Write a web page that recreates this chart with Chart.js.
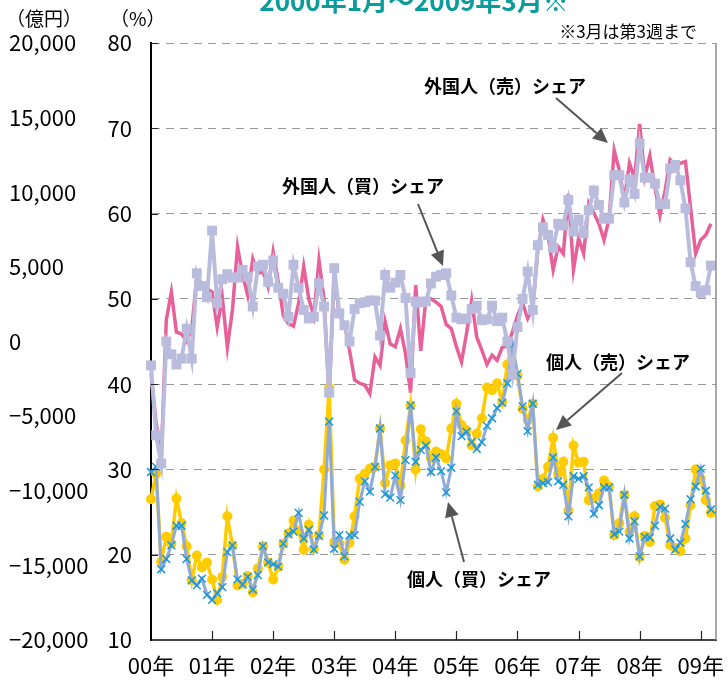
<!DOCTYPE html>
<html>
<head>
<meta charset="utf-8">
<script src="https://cdn.jsdelivr.net/npm/chart.js@4.4.0/dist/chart.umd.min.js"></script>
<style>
  html, body { margin: 0; padding: 0; background: #fff; }
</style>
</head>
<body>
<canvas id="chart" width="728" height="685"></canvas>
<script>
// tick labels
const yearLabels = ['00年', '01年', '02年', '03年', '04年', '05年', '06年', '07年', '08年', '09年'];

// monthly categories 2000/1 .. 2009/3 (plus one empty slot at the right end)
const months = [];
for (let y = 2000; y <= 2009; y++) {
  for (let m = 1; m <= 12; m++) {
    if (y === 2009 && m > 3) break;
    months.push(y + '/' + m);
  }
}
months.push('');

// share (%)
const foreignSell = [
  41.2, 35.5, 31.1, 47.5, 50.8, 46.1, 45.9, 45.0, 46.5, 52.6, 51.8, 51.2,
  50.8, 46.7, 50.2, 44.3, 48.7, 56.1, 52.8, 50.4, 54.7, 53.0, 53.2, 51.4,
  55.5, 52.0, 48.0, 47.1, 46.8, 49.5, 53.8, 50.0, 48.0, 54.5, 50.0, 38.5,
  53.0, 48.0, 47.1, 44.0, 40.5, 40.1, 39.9, 38.9, 43.2, 42.2, 47.3, 44.7,
  44.4, 46.5, 43.6, 39.0, 51.6, 43.9, 50.0, 50.0, 49.6, 49.1, 47.0, 46.5,
  44.4, 42.6, 46.0, 49.8, 45.5, 44.0, 42.3, 43.4, 42.8, 44.3, 44.5, 46.1,
  48.0, 49.5, 47.7, 49.0, 55.7, 59.3, 57.5, 53.4, 56.1, 55.3, 62.3, 53.4,
  57.1, 55.3, 61.2, 60.1, 58.8, 56.9, 59.4, 67.4, 65.1, 61.6, 65.9, 64.1,
  70.5, 64.3, 66.8, 63.1, 59.8, 62.7, 66.3, 65.7, 65.9, 66.1, 60.7, 55.3,
  56.9, 57.5, 58.8
];
const foreignBuy = [
  42.2, 34.0, 30.7, 45.0, 43.5, 42.3, 43.0, 46.5, 43.0, 53.0, 51.5, 50.2,
  58.0, 49.5, 52.3, 52.9, 52.5, 52.5, 53.4, 52.6, 49.1, 53.8, 54.0, 52.0,
  54.5, 51.3, 50.6, 47.9, 54.0, 51.3, 48.7, 47.7, 47.9, 51.8, 49.1, 39.0,
  53.6, 48.3, 46.9, 45.0, 48.8, 49.5, 49.6, 49.8, 49.8, 45.7, 52.8, 51.3,
  51.9, 52.8, 50.1, 41.3, 49.7, 49.6, 49.7, 51.8, 52.6, 52.8, 53.0, 50.4,
  47.8, 47.6, 47.7, 48.8, 49.2, 47.5, 47.6, 49.2, 47.4, 47.8, 45.0, 41.2,
  46.7, 50.0, 53.2, 48.7, 56.3, 58.4, 57.5, 56.0, 58.8, 58.6, 61.6, 57.9,
  59.3, 57.7, 60.4, 62.7, 61.0, 59.4, 59.4, 64.5, 64.5, 61.3, 64.0, 62.3,
  68.2, 64.2, 64.2, 63.5, 61.1, 61.1, 65.3, 65.7, 63.9, 60.6, 54.3, 51.5,
  50.7, 51.0, 53.9
];
const individualSell = [
  26.5, 29.5, 19.2, 22.1, 21.3, 26.6, 23.7, 21.0, 17.0, 19.9, 18.5, 19.1,
  17.1, 14.7, 17.4, 24.5, 21.1, 16.4, 16.6, 17.5, 15.6, 18.4, 21.0, 19.1,
  17.1, 18.6, 21.3, 22.5, 24.0, 22.8, 20.6, 23.5, 20.7, 22.3, 30.0, 39.6,
  21.5, 21.3, 19.4, 21.4, 24.5, 28.9, 29.5, 30.1, 30.3, 34.8, 28.4, 30.5,
  30.7, 28.1, 33.4, 37.5, 30.0, 34.7, 33.3, 31.3, 32.1, 31.8, 31.3, 34.8,
  37.7, 35.2, 34.6, 32.8, 34.2, 36.0, 39.6, 39.3, 40.1, 37.9, 42.3, 44.6,
  41.0, 37.1, 35.8, 37.7, 28.0, 28.9, 30.3, 33.7, 29.5, 30.9, 25.2, 32.8,
  30.8, 30.9, 26.4, 26.6, 27.2, 28.7, 28.0, 22.3, 23.7, 27.0, 22.7, 24.5,
  19.7, 22.2, 21.5, 25.7, 25.9, 24.3, 21.1, 20.8, 20.4, 21.9, 25.8, 30.0,
  28.9, 26.4, 24.9
];
const individualBuy = [
  29.7, 30.3, 18.3, 19.5, 21.1, 23.4, 23.4, 19.5, 17.0, 16.4, 17.2, 15.3,
  14.7, 15.5, 16.2, 20.3, 21.1, 17.1, 16.5, 17.4, 15.9, 17.6, 21.0, 19.1,
  18.9, 18.6, 21.3, 22.4, 22.7, 24.9, 21.9, 22.9, 20.6, 22.2, 24.6, 35.6,
  20.7, 22.3, 19.8, 22.3, 22.3, 26.2, 28.6, 27.4, 30.3, 34.8, 27.1, 26.7,
  29.3, 26.4, 31.1, 37.5, 30.9, 32.3, 32.8, 29.7, 31.4, 29.8, 27.3, 30.2,
  36.8, 33.9, 34.4, 33.2, 32.4, 33.2, 35.1, 36.0, 37.2, 37.8, 40.1, 44.6,
  41.2, 37.4, 34.5, 37.7, 28.2, 28.4, 28.5, 31.4, 28.6, 28.2, 24.5, 29.2,
  28.9, 29.2, 27.9, 24.8, 25.8, 27.9, 27.9, 22.4, 22.7, 27.0, 21.9, 23.9,
  19.8, 22.1, 22.0, 23.4, 25.6, 25.4, 21.9, 20.6, 21.4, 23.6, 26.5, 28.0,
  30.1, 27.5, 25.3
];

const NUM_FONT = "'Noto Sans CJK JP', sans-serif";
const JP_FONT = "'Noto Sans CJK JP', sans-serif";

const drawArrow = (ctx, x1, y1, x2, y2) => {
  const ang = Math.atan2(y2 - y1, x2 - x1);
  const len = 15, half = 7;
  const bx = x2 - len * Math.cos(ang), by = y2 - len * Math.sin(ang);
  ctx.beginPath();
  ctx.moveTo(x1, y1);
  ctx.lineTo(bx, by);
  ctx.stroke();
  ctx.beginPath();
  ctx.moveTo(x2, y2);
  ctx.lineTo(bx + half * Math.sin(ang), by - half * Math.cos(ang));
  ctx.lineTo(bx - half * Math.sin(ang), by + half * Math.cos(ang));
  ctx.closePath();
  ctx.fill();
};

const decor = {
  id: 'decor',
  afterDraw(chart) {
    const { ctx, chartArea: a, scales } = chart;
    ctx.save();

    // right frame
    ctx.strokeStyle = '#8c8c8c';
    ctx.lineWidth = 1.5;
    ctx.beginPath();
    ctx.moveTo(a.right, a.top);
    ctx.lineTo(a.right, a.bottom);
    ctx.stroke();

    // inside tick marks
    ctx.strokeStyle = '#222';
    ctx.lineWidth = 1.2;
    ctx.beginPath();
    for (let i = 12; i < months.length; i += 12) {
      const x = Math.round(scales.x.getPixelForValue(i)) + 0.5;
      ctx.moveTo(x, a.bottom);
      ctx.lineTo(x, a.bottom - 9);
    }
    for (let v = 20; v <= 80; v += 10) {
      const y = Math.round(scales.y.getPixelForValue(v)) + 0.5;
      ctx.moveTo(a.left, y);
      ctx.lineTo(a.left + 7, y);
    }
    ctx.stroke();

    // title (cut off at the top)
    ctx.fillStyle = '#0a9b9b';
    ctx.font = "bold 26px " + JP_FONT;
    ctx.textAlign = 'center';
    ctx.textBaseline = 'alphabetic';
    ctx.fillText('2000年1月～2009年3月※', 414, 11);

    // unit labels and note
    ctx.fillStyle = '#000';
    ctx.font = "19px " + JP_FONT;
    ctx.textAlign = 'left';
    ctx.textBaseline = 'middle';
    ctx.fillText('（億円）', 6, 19);
    ctx.fillText('（%）', 110, 19);
    ctx.font = "17px " + JP_FONT;
    ctx.textAlign = 'right';
    ctx.fillText('※3月は第3週まで', 697, 32);

    // series labels
    ctx.font = "bold 18px " + JP_FONT;
    ctx.textAlign = 'center';
    ctx.fillText('外国人（売）シェア', 505, 86);
    ctx.fillText('外国人（買）シェア', 363, 186);
    ctx.fillText('個人（売）シェア', 618, 362);
    ctx.fillText('個人（買）シェア', 479, 579);

    // arrows
    ctx.strokeStyle = '#555';
    ctx.fillStyle = '#555';
    ctx.lineWidth = 2;
    drawArrow(ctx, 556, 98, 608, 143);
    drawArrow(ctx, 418, 204, 443, 266);
    drawArrow(ctx, 622, 373, 556, 430);
    drawArrow(ctx, 464, 562, 448, 502);

    ctx.restore();
  }
};

const ctx = document.getElementById('chart').getContext('2d');
new Chart(ctx, {
  type: 'line',
  data: {
    labels: months,
    datasets: [
      {
        label: '外国人(売)シェア',
        data: foreignSell,
        yAxisID: 'y',
        borderColor: '#e8609a',
        borderWidth: 3.5,
        pointRadius: 0,
        order: 4
      },
      {
        label: '個人(売)シェア',
        data: individualSell,
        yAxisID: 'y',
        borderColor: '#ffcc00',
        borderWidth: 3.5,
        pointStyle: 'circle',
        pointRadius: 5,
        pointBackgroundColor: '#ffcc00',
        pointBorderColor: '#ffcc00',
        pointBorderWidth: 0,
        order: 3
      },
      {
        label: '個人(買)シェア',
        data: individualBuy,
        yAxisID: 'y',
        borderColor: '#8eaadb',
        borderWidth: 3,
        pointStyle: 'crossRot',
        pointRadius: 5.5,
        pointBorderColor: '#1a9ad6',
        pointBorderWidth: 1.5,
        order: 2
      },
      {
        label: '外国人(買)シェア',
        data: foreignBuy,
        yAxisID: 'y',
        borderColor: '#b9bcdd',
        borderWidth: 4,
        pointStyle: 'rect',
        pointRadius: 7,
        pointBackgroundColor: '#b9bcdd',
        pointBorderColor: '#b9bcdd',
        pointBorderWidth: 0,
        order: 1
      }
    ]
  },
  options: {
    responsive: false,
    animation: false,
    devicePixelRatio: 1,
    layout: { padding: { left: 9, right: 12, top: 43, bottom: 0 } },
    elements: { line: { tension: 0 } },
    plugins: {
      legend: { display: false },
      tooltip: { enabled: false }
    },
    scales: {
      x: {
        type: 'category',
        offset: false,
        grid: { display: false, drawTicks: false },
        border: { display: true, color: '#444', width: 2 },
        ticks: {
          autoSkip: false,
          maxRotation: 0,
          padding: 12,
          color: '#000',
          font: { family: NUM_FONT, size: 22 },
          callback: (val, i) => (i % 12 === 0 ? yearLabels[i / 12] : '')
        },
        afterFit: (s) => { s.height = 45; }
      },
      y: {
        position: 'left',
        weight: 0,
        min: 10,
        max: 80,
        grid: { color: '#9a9a9a', lineWidth: 1, drawTicks: false },
        border: { display: true, color: '#000', width: 2, dash: [8, 6] },
        ticks: {
          stepSize: 10,
          padding: 19,
          color: '#000',
          font: { family: NUM_FONT, size: 22 }
        },
        afterFit: (s) => { s.width = 46; }
      },
      y2: {
        position: 'left',
        weight: 1,
        min: -20000,
        max: 20000,
        grid: { display: false, drawTicks: false },
        border: { display: false },
        ticks: {
          stepSize: 5000,
          crossAlign: 'far',
          color: '#000',
          font: { family: NUM_FONT, size: 22 },
          callback: (v) => {
            const s = Math.abs(v).toLocaleString('en-US');
            return v < 0 ? '−' + s : s;
          }
        },
        afterFit: (s) => { s.width = 96; }
      }
    }
  },
  plugins: [decor]
});
</script>
</body>
</html>
